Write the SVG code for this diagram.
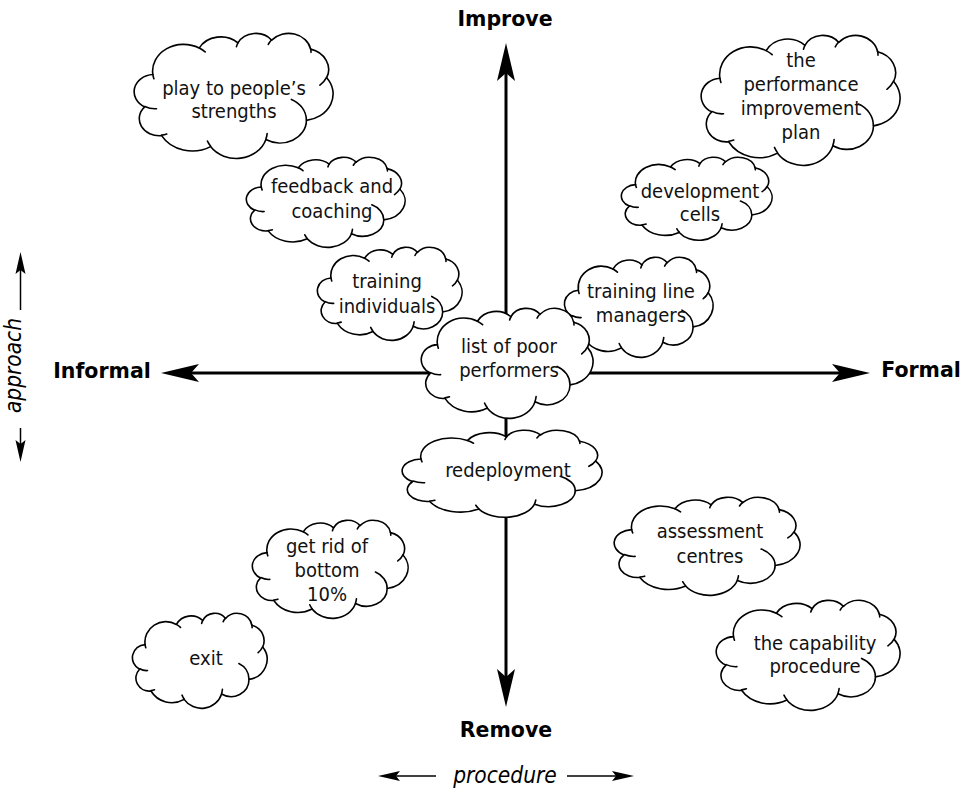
<svg xmlns="http://www.w3.org/2000/svg" xmlns:xlink="http://www.w3.org/1999/xlink" width="962" height="791" viewBox="0 0 962 791">
  <style>
    .cloud-body { fill: #ffffff; stroke: #000000; stroke-width: 1.6; vector-effect: non-scaling-stroke; stroke-linejoin: round; }
    .cloud-hook { fill: none; stroke: #000000; stroke-width: 1.6; vector-effect: non-scaling-stroke; stroke-linecap: round; }
    .lbl { font-family: "DejaVu Sans Condensed", "DejaVu Sans", sans-serif; font-stretch: condensed; font-size: 20px; text-anchor: middle; fill: #111111; }
    .pole { font-family: "DejaVu Sans", sans-serif; font-weight: bold; font-size: 20.5px; fill: #000000; }
    .dim { font-family: "DejaVu Sans Condensed", "DejaVu Sans", sans-serif; font-stretch: condensed; font-style: italic; font-size: 22.5px; text-anchor: middle; fill: #000000; }
    .axis-line { stroke: #000000; stroke-width: 3; fill: none; }
    .dim-line { stroke: #000000; stroke-width: 1.5; fill: none; }
  </style>
  <defs>
    <!-- cloud outline in a 100 x 100 box, with the small interior hooks -->
    <g id="cloud">
      <path class="cloud-body" d="M9.03,33.26 A15.63,21.27 0 0 1 32.42,12.04 A12.34,16.82 0 0 1 51.98,7.94 A10.10,13.76 0 0 1 69.06,5.74 A11.24,15.27 0 0 1 88.70,12.90 A12.34,16.84 0 0 1 96.80,35.78 A15.68,21.34 0 0 1 86.58,69.91 A13.39,18.21 0 0 1 66.10,85.21 A15.63,21.33 0 0 1 38.15,90.89 A17.87,24.41 0 0 1 13.43,82.11 A10.09,13.70 0 0 1 4.89,59.14 A10.06,13.76 0 0 1 9.03,33.26 Z"/>
      <path class="cloud-hook" d="M10.86,60.60 A10.06,13.76 0 0 1 5.00,58.75 M16.04,80.78 A10.09,13.70 0 0 1 13.47,81.67 M38.14,90.49 A15.63,21.33 0 0 1 36.60,86.46 M66.73,80.44 A15.63,21.33 0 0 1 66.11,84.86 M79.00,53.13 A13.39,18.21 0 0 1 86.53,69.65 M96.75,35.54 A12.34,16.84 0 0 1 93.40,41.74 M88.71,12.56 A11.24,15.27 0 0 1 88.89,15.49 M67.31,9.15 A11.24,15.27 0 0 1 69.03,5.42 M51.25,10.93 A10.10,13.76 0 0 1 52.08,7.71 M32.41,12.02 A15.63,21.27 0 0 1 35.43,15.17 M9.55,36.55 A15.63,21.27 0 0 1 9.03,33.26"/>
    </g>
    <!-- long notched arrowhead for the main axes; the line stops at the notch -->
    <marker id="axisHead" markerUnits="userSpaceOnUse" markerWidth="48" markerHeight="24" viewBox="-10 -12 48 24" refX="0" refY="0" orient="auto-start-reverse" overflow="visible">
      <path d="M30,0 L-8,-9 L0,0 L-8,9 Z" fill="#000000"/>
    </marker>
    <!-- small arrowhead for the approach / procedure scales -->
    <marker id="dimHead" markerUnits="userSpaceOnUse" markerWidth="30" markerHeight="14" viewBox="-6 -7 30 14" refX="0" refY="0" orient="auto" overflow="visible">
      <path d="M18,0 L-4,-5 L0,0 L-4,5 Z" fill="#000000"/>
    </marker>
  </defs>

  <rect x="0" y="0" width="962" height="791" fill="#ffffff"/>

  <!-- axes and scale arrows -->
  <g id="connectors">
    <line class="axis-line" x1="506" y1="73" x2="506" y2="677" marker-start="url(#axisHead)" marker-end="url(#axisHead)"/>
    <line class="axis-line" x1="191" y1="373" x2="840" y2="373" marker-start="url(#axisHead)" marker-end="url(#axisHead)"/>
    <line class="dim-line" x1="20.5" y1="310" x2="20.5" y2="270" marker-end="url(#dimHead)"/>
    <line class="dim-line" x1="20.5" y1="428" x2="20.5" y2="444" marker-end="url(#dimHead)"/>
    <line class="dim-line" x1="436" y1="776" x2="396" y2="776" marker-end="url(#dimHead)"/>
    <line class="dim-line" x1="567" y1="776" x2="616" y2="776" marker-end="url(#dimHead)"/>
  </g>

  <!-- axis pole labels -->
  <g id="poles">
    <text class="pole" x="505" y="26" text-anchor="middle">Improve</text>
    <text class="pole" x="506" y="737" text-anchor="middle">Remove</text>
    <text class="pole" x="102" y="378" text-anchor="middle">Informal</text>
    <text class="pole" x="921" y="377" text-anchor="middle">Formal</text>
    <text class="dim" x="505" y="783">procedure</text>
    <text class="dim" transform="translate(21,365.5) rotate(-90)" x="0" y="0">approach</text>
  </g>

  <g id="play-to-strengths">
    <use xlink:href="#cloud" href="#cloud" transform="translate(135,33) scale(1.98,1.25)"/>
    <text class="lbl" x="234" y="95">play to people’s</text>
    <text class="lbl" x="234" y="118">strengths</text>
  </g>

  <g id="feedback-coaching">
    <use xlink:href="#cloud" href="#cloud" transform="translate(247,157) scale(1.58,0.90)"/>
    <text class="lbl" x="332" y="193">feedback and</text>
    <text class="lbl" x="332" y="218">coaching</text>
  </g>

  <g id="training-individuals">
    <use xlink:href="#cloud" href="#cloud" transform="translate(318,247) scale(1.44,0.93)"/>
    <text class="lbl" x="387" y="288">training</text>
    <text class="lbl" x="387" y="313">individuals</text>
  </g>

  <g id="performance-plan">
    <use xlink:href="#cloud" href="#cloud" transform="translate(702,35) scale(1.98,1.30)"/>
    <text class="lbl" x="801" y="67">the</text>
    <text class="lbl" x="801" y="91">performance</text>
    <text class="lbl" x="801" y="115">improvement</text>
    <text class="lbl" x="801" y="139">plan</text>
  </g>

  <g id="development-cells">
    <use xlink:href="#cloud" href="#cloud" transform="translate(622,157) scale(1.50,0.83)"/>
    <text class="lbl" x="700" y="198">development</text>
    <text class="lbl" x="700" y="221">cells</text>
  </g>

  <g id="training-line-managers">
    <use xlink:href="#cloud" href="#cloud" transform="translate(565,257) scale(1.48,1.00)"/>
    <text class="lbl" x="641" y="298">training line</text>
    <text class="lbl" x="641" y="322">managers</text>
  </g>

  <g id="poor-performers">
    <use xlink:href="#cloud" href="#cloud" transform="translate(422,308) scale(1.71,1.10)"/>
    <text class="lbl" x="509" y="353">list of poor</text>
    <text class="lbl" x="509" y="377">performers</text>
  </g>

  <g id="redeployment">
    <use xlink:href="#cloud" href="#cloud" transform="translate(403,430) scale(1.99,0.87)"/>
    <text class="lbl" x="508" y="477">redeployment</text>
  </g>

  <g id="assessment-centres">
    <use xlink:href="#cloud" href="#cloud" transform="translate(615,497) scale(1.85,0.98)"/>
    <text class="lbl" x="710" y="538">assessment</text>
    <text class="lbl" x="710" y="563">centres</text>
  </g>

  <g id="bottom-ten-percent">
    <use xlink:href="#cloud" href="#cloud" transform="translate(253,520) scale(1.55,0.98)"/>
    <text class="lbl" x="327" y="553">get rid of</text>
    <text class="lbl" x="327" y="577">bottom</text>
    <text class="lbl" x="327" y="601">10%</text>
  </g>

  <g id="exit">
    <use xlink:href="#cloud" href="#cloud" transform="translate(133,613) scale(1.34,0.95)"/>
    <text class="lbl" x="206" y="665">exit</text>
  </g>

  <g id="capability-procedure">
    <use xlink:href="#cloud" href="#cloud" transform="translate(717,600) scale(1.83,1.10)"/>
    <text class="lbl" x="815" y="650">the capability</text>
    <text class="lbl" x="815" y="673">procedure</text>
  </g>
</svg>
